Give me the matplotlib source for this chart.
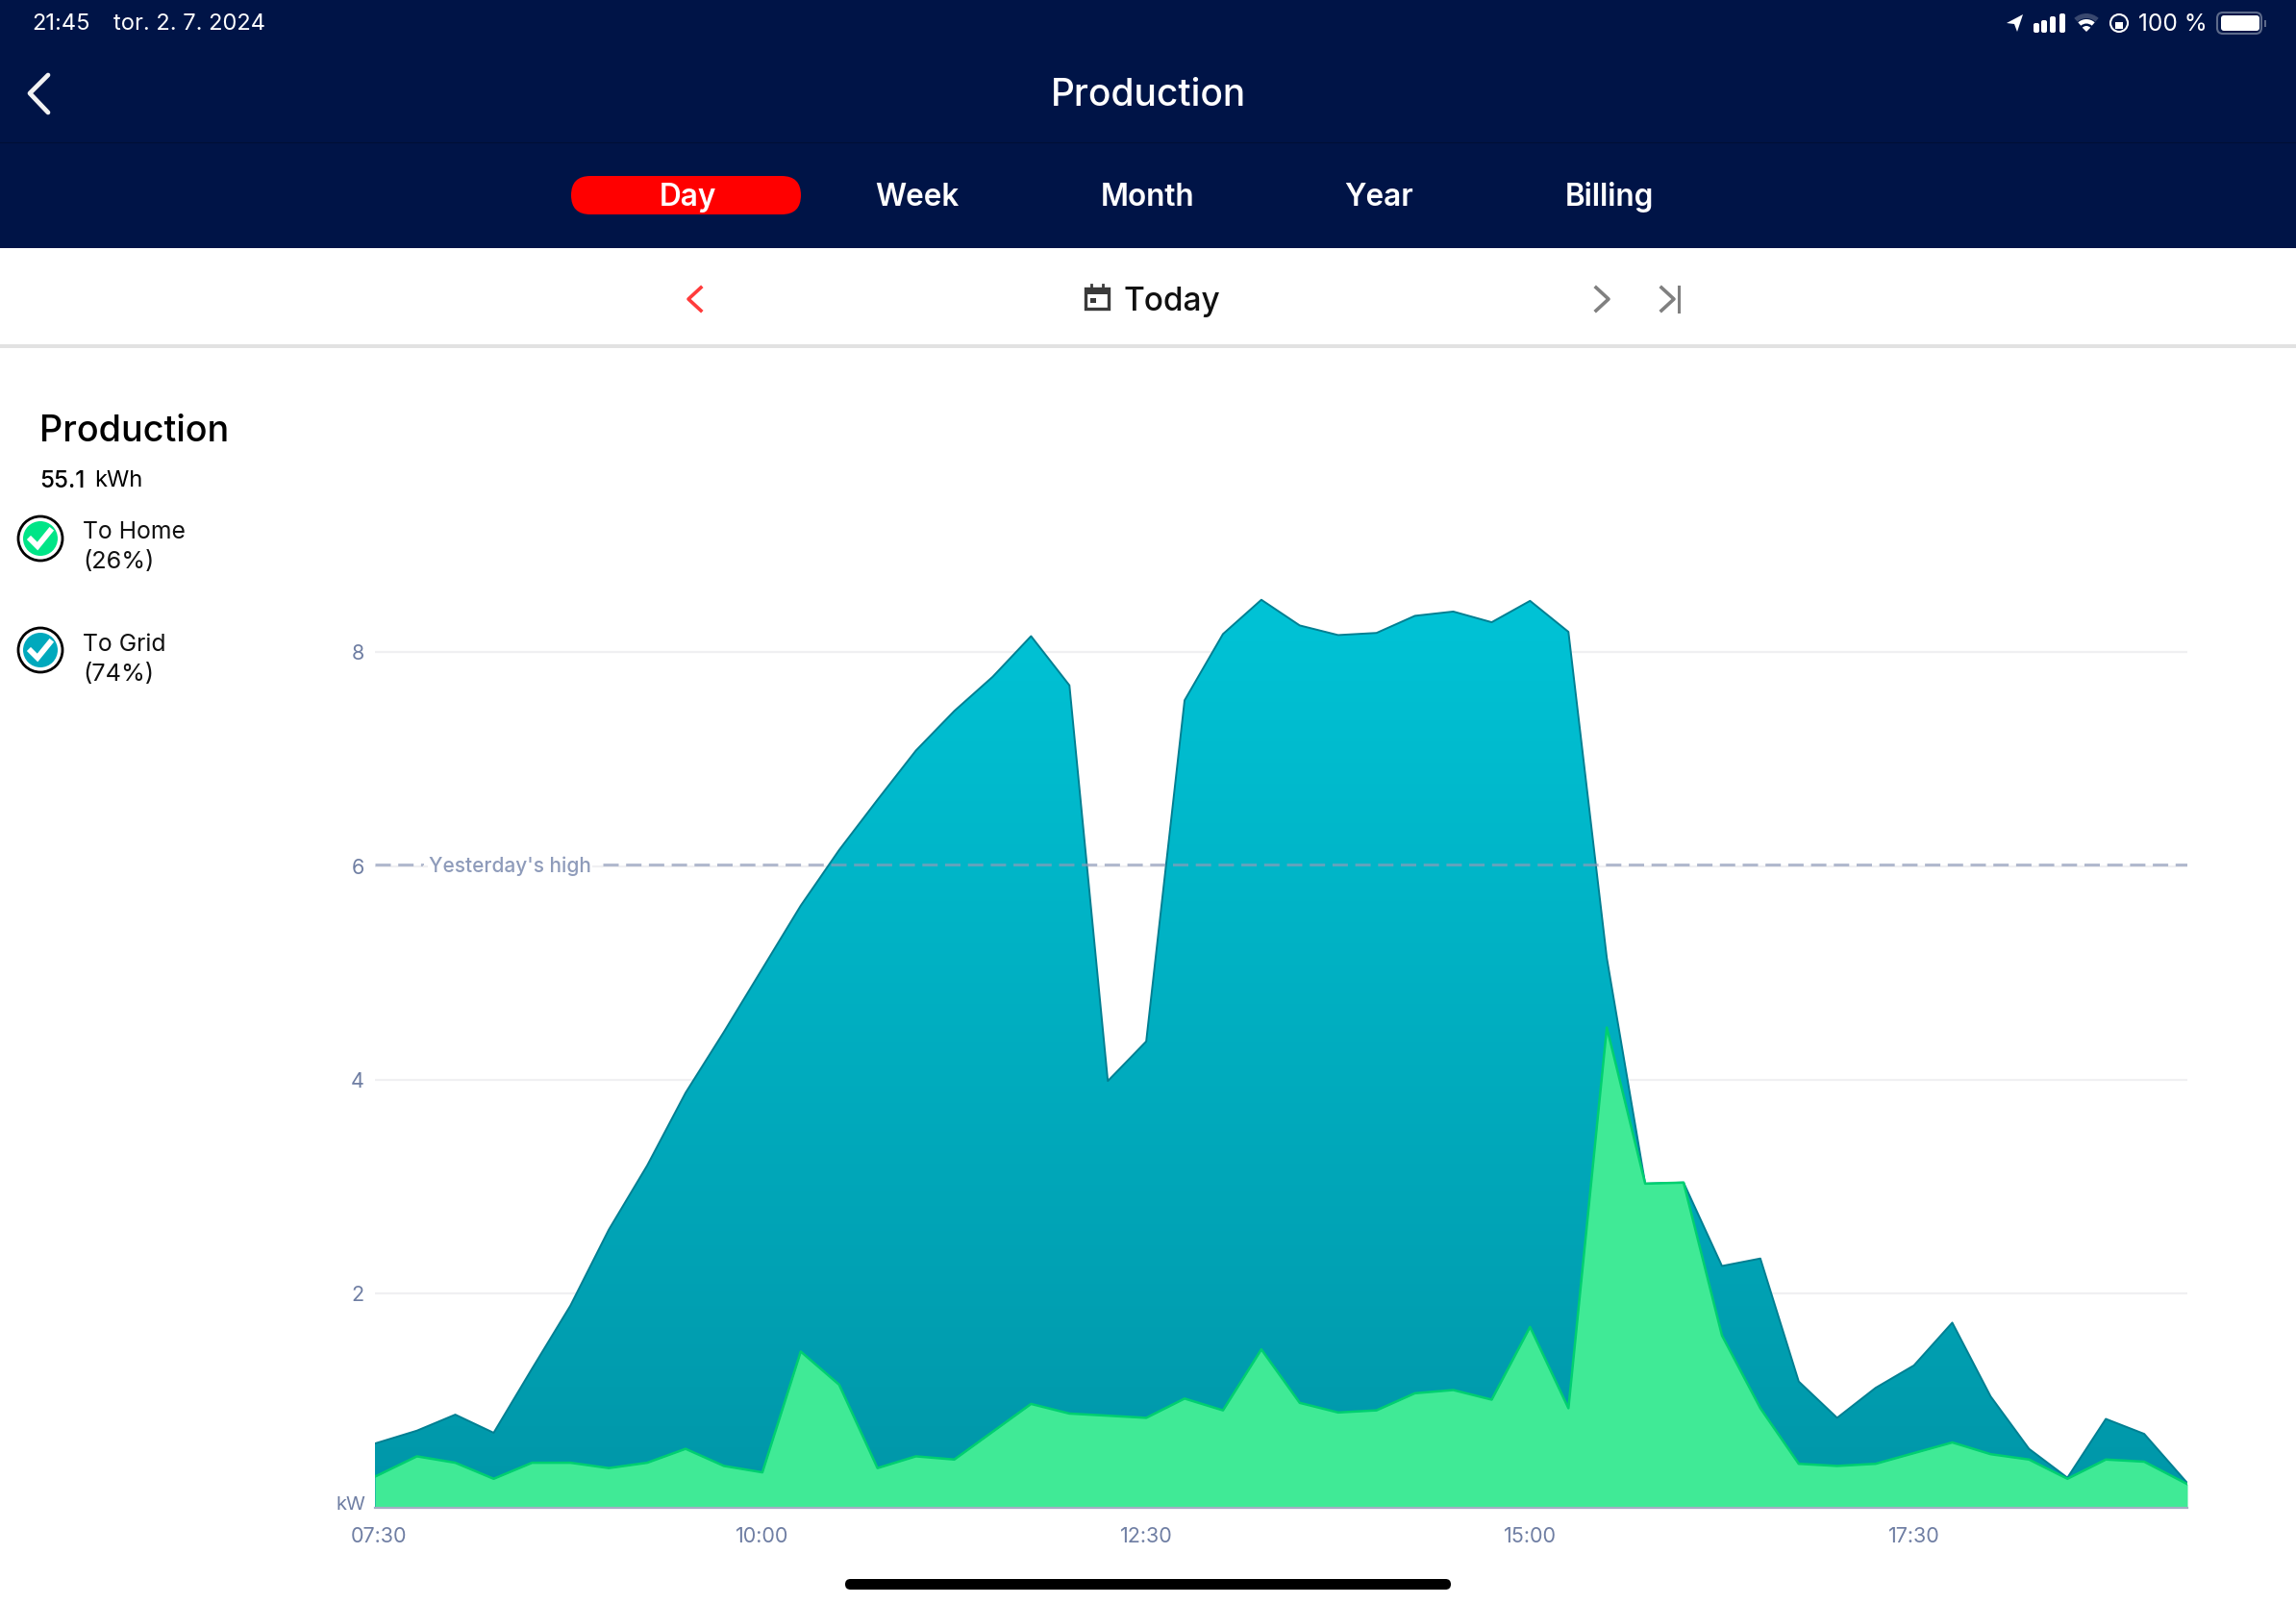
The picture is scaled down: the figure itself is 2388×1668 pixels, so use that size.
import numpy as np
import matplotlib
matplotlib.use('Agg')
import matplotlib.pyplot as plt
from matplotlib.colors import LinearSegmentedColormap
from matplotlib.patches import Circle, FancyBboxPatch, Polygon, Wedge, Rectangle
from matplotlib.transforms import IdentityTransform

plt.rcParams['font.family'] = ['Inter', 'DejaVu Sans']

# Data
slots = ['07:30', '07:45', '08:00', '08:15', '08:30', '08:45', '09:00', '09:15',
         '09:30', '09:45', '10:00', '10:15', '10:30', '10:45', '11:00', '11:15',
         '11:30', '11:45', '12:00', '12:15', '12:30', '12:45', '13:00', '13:15',
         '13:30', '13:45', '14:00', '14:15', '14:30', '14:45', '15:00', '15:15',
         '15:30', '15:45', '16:00', '16:15', '16:30', '16:45', '17:00', '17:15',
         '17:30', '17:45', '18:00', '18:15', '18:30', '18:45', '19:00', '19:15']
total_kw = [0.60, 0.72, 0.87, 0.70, 1.30, 1.89, 2.60, 3.20, 3.88, 4.45, 5.04, 5.63,
            6.15, 6.62, 7.08, 7.45, 7.77, 8.15, 7.69, 3.99, 4.36, 7.55, 8.17, 8.49,
            8.25, 8.16, 8.18, 8.34, 8.38, 8.28, 8.48, 8.19, 5.14, 3.03, 3.04, 2.26,
            2.33, 1.18, 0.84, 1.12, 1.33, 1.73, 1.04, 0.55, 0.28, 0.83, 0.69, 0.23]
home_kw = [0.29, 0.48, 0.42, 0.27, 0.42, 0.42, 0.37, 0.42, 0.55, 0.39, 0.33, 1.46,
           1.15, 0.37, 0.48, 0.45, 0.71, 0.97, 0.88, 0.86, 0.84, 1.02, 0.91, 1.48,
           0.98, 0.89, 0.91, 1.07, 1.10, 1.01, 1.69, 0.93, 4.49, 3.03, 3.04, 1.61,
           0.93, 0.41, 0.39, 0.41, 0.51, 0.61, 0.50, 0.45, 0.27, 0.45, 0.43, 0.22]
# first and last samples sit a little outside the quarter-hour grid
first_hour, last_hour = 7.477, 19.281
y_ticks = [2, 4, 6, 8]
x_tick_labels = ['07:30', '10:00', '12:30', '15:00', '17:30']
yesterday_high = 6.01
tabs = ['Day', 'Week', 'Month', 'Year', 'Billing']
legend_names = ['To Home', 'To Grid']
legend_shares = ['(26%)', '(74%)']

W, H = 2388, 1668
NAVY = '#001447'
TICK = '#6f7ea3'


def to_hours(label):
    return int(label[:2]) + int(label[3:]) / 60


fig = plt.figure(figsize=(W / 100, H / 100), dpi=100, facecolor='white')

# UI layer in pixel coordinates
ui = fig.add_axes([0, 0, 1, 1])
ui.set_xlim(0, W)
ui.set_ylim(H, 0)
ui.axis('off')

ui.add_patch(Rectangle((0, 0), W, 258, color=NAVY, lw=0))
ui.plot([0, W], [148, 148], color='#000f36', lw=0.8)
ui.add_patch(Rectangle((0, 358), W, 4, color='#e2e2e2', lw=0))

ui.text(33, 25, '21:45', color='white', fontsize=17, va='center')
ui.text(118, 25, 'tor. 2. 7. 2024', color='white', fontsize=17, va='center')
ui.text(2296, 25, '100 %', color='white', fontsize=17.6, va='center', ha='right')

# status icons
ui.add_patch(Polygon([[2087, 24], [2104, 15], [2098, 33], [2095, 25]], color='white', lw=0))
for bx, bh in zip([2115, 2123, 2132, 2142], [10, 13, 17, 20]):
    ui.add_patch(FancyBboxPatch((bx, 34 - bh), 6, bh, boxstyle='round,pad=0,rounding_size=2',
                                color='white', lw=0))
ui.add_patch(Wedge((2170, 33), 19, 228, 312, width=5, color='#39486f', lw=0))
ui.add_patch(Wedge((2170, 33), 13, 228, 312, width=4.5, color='white', lw=0))
ui.add_patch(Wedge((2170, 33), 6, 225, 315, color='white', lw=0))
ui.add_patch(Circle((2204, 24), 9, fill=False, ec='white', lw=1.5))
ui.add_patch(Rectangle((2200, 23), 8, 7, color='white', lw=0))
ui.add_patch(FancyBboxPatch((2306, 13), 46, 22, boxstyle='round,pad=0,rounding_size=6',
                            fc='none', ec='#5d6a8a', lw=1.5))
ui.add_patch(FancyBboxPatch((2310, 16), 40, 16, boxstyle='round,pad=0,rounding_size=3',
                            color='white', lw=0))
ui.add_patch(Rectangle((2355, 21), 2, 7, color='#5d6a8a', lw=0))

# header
ui.plot([50, 31, 50], [78, 97, 117], color='#f2f2f2', lw=3.4, solid_capstyle='round',
        solid_joinstyle='round')
ui.text(1194, 99, 'Production', color='white', fontsize=28, fontweight='medium',
        ha='center', va='center')

ui.add_patch(FancyBboxPatch((594, 183), 239, 40, boxstyle='round,pad=0,rounding_size=20',
                            color='#ff0000', lw=0))
for name, cx in zip(tabs, [715, 954, 1194, 1434, 1674]):
    ui.text(cx, 205, name, color='white', fontsize=22.7, fontweight='semibold',
            ha='center', va='center')

# date row
ui.plot([729, 716, 729], [299, 311, 323], color='#ff3b3b', lw=2.6)
ui.plot([1660, 1673, 1660], [299, 311, 323], color='#808080', lw=2.6)
ui.plot([1728, 1741, 1728], [299, 311, 323], color='#808080', lw=2.6)
ui.plot([1746, 1746], [298, 324], color='#808080', lw=2.2)
ui.add_patch(Rectangle((1129, 300), 24, 21, fc='none', ec='#3a3a3a', lw=2.4))
ui.add_patch(Rectangle((1129, 300), 24, 6, color='#3a3a3a', lw=0))
ui.plot([1135, 1135], [296, 300], color='#3a3a3a', lw=2)
ui.plot([1147, 1147], [296, 300], color='#3a3a3a', lw=2)
ui.add_patch(Rectangle((1134, 310), 6, 5, color='#3a3a3a', lw=0))
ui.text(1168, 314, 'Today', color='#111111', fontsize=24, fontweight='medium', va='center')

# left panel
ui.text(41, 449, 'Production', color='black', fontsize=27.2, fontweight='medium', va='center')
ui.text(41, 500, '55.1', color='black', fontsize=17.5, fontweight='medium', va='center')
ui.text(98, 500, 'kWh', color='black', fontsize=17, va='center')

for name, share, cy, col in zip(legend_names, legend_shares, [560, 676], ['#00e587', '#00a9bd']):
    ui.add_patch(Circle((42, cy), 23, fc='white', ec='black', lw=2))
    ui.add_patch(Circle((42, cy), 18, color=col, lw=0))
    ui.plot([32, 39, 52], [cy + 1, cy + 8, cy - 8], color='white', lw=4.2,
            solid_joinstyle='miter')
    ui.text(86, cy - 6, name, color='#111111', fontsize=17.8, va='center')
    ui.text(86, cy + 25, share, color='#111111', fontsize=18.2, va='center')

# home indicator
ui.add_patch(FancyBboxPatch((879, 1642), 630, 11, boxstyle='round,pad=0,rounding_size=5.5',
                            color='black', lw=0))

# Chart
px_left, px_right, px_base = 390, 2275, 1567.8
px_per_kw = 111.2
y_top = 9.5
ax = fig.add_axes([px_left / W, (H - px_base) / H, (px_right - px_left) / W,
                   y_top * px_per_kw / H])
ax.patch.set_alpha(0)

hours = np.array([to_hours(s) for s in slots])
hours[0], hours[-1] = first_hour, last_hour
total = np.array(total_kw)
home = np.array(home_kw)

for t in y_ticks:
    ax.axhline(t, color='#f0f0f2', lw=1.6, zorder=1)

# area with vertical gradient, clipped to the curve
cmap = LinearSegmentedColormap.from_list('grid_fill', ['#00c3d6', '#0096a8'])
poly = ax.fill_between(hours, total, 0, color='none', lw=0, zorder=2)
grad = ax.imshow(np.linspace(0, 1, 256).reshape(-1, 1), cmap=cmap, aspect='auto',
                 extent=[hours[0], hours[-1], 0, max(total)], origin='upper', zorder=2)
grad.set_clip_path(poly.get_paths()[0], transform=ax.transData)
ax.plot(hours, total, color='#007f92', lw=1.4, zorder=3)

ax.fill_between(hours, home, 0, color='#40ea96', lw=0, zorder=4)
ax.plot(hours, home, color='#00cf70', lw=1.8, zorder=5)

# reference line for yesterday
ax.axhline(yesterday_high, color='#8f9bb9', alpha=0.68, lw=2.16, dashes=(5.33, 2.57), zorder=6)
ax.add_patch(Rectangle((441, H - 908), 184, 17, transform=IdentityTransform(), color='white',
                       lw=0, zorder=7, clip_on=False))
ax.add_line(plt.Line2D([441, 625], [H - 901, H - 901], transform=IdentityTransform(),
                       color='#f0f0f2', lw=1.6, zorder=7.5, clip_on=False))
fig.text(446 / W, 1 - 900.5 / H, "Yesterday's high", color='#8e9bba', fontsize=15,
         fontweight='medium', va='center', zorder=20,
         bbox=dict(fc='white', ec='none', pad=1))

ax.set_xlim(hours[0], hours[-1])
ax.set_ylim(0, y_top)
ax.set_yticks(y_ticks)
ax.set_yticklabels([str(t) for t in y_ticks])
ax.set_xticks([to_hours(s) for s in x_tick_labels])
ax.set_xticklabels(x_tick_labels)
ax.tick_params(length=0, labelsize=15.5, labelcolor=TICK)
ax.tick_params(axis='y', pad=8)
ax.tick_params(axis='x', pad=14.2)
for side in ['top', 'right', 'left']:
    ax.spines[side].set_visible(False)
ax.spines['bottom'].set_color('#a6adc4')
ax.spines['bottom'].set_linewidth(1.6)
ax.spines['bottom'].set_zorder(8)
ax.text(-0.0052, 0.003, 'kW', transform=ax.transAxes, color=TICK, fontsize=14.5, ha='right', va='center')

fig.savefig('out.png', dpi=100)
